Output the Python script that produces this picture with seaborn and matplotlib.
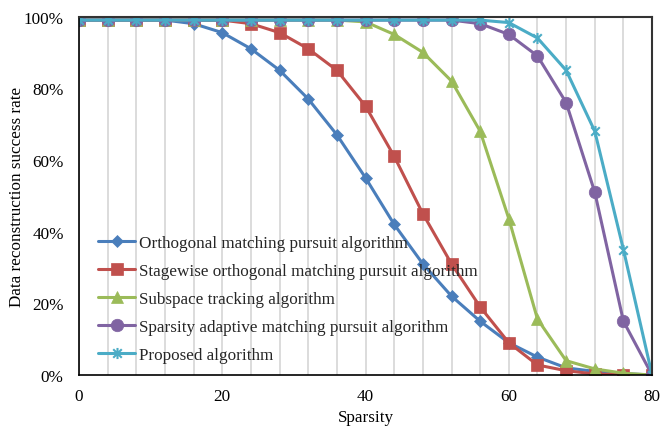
import numpy as np
import pandas as pd
import matplotlib
matplotlib.use("Agg")
import matplotlib.pyplot as plt
from matplotlib.path import Path
from matplotlib.ticker import MultipleLocator, PercentFormatter
import seaborn as sns

sparsity = [0, 4, 8, 12, 16, 20, 24, 28, 32, 36, 40, 44, 48, 52, 56, 60, 64, 68, 72, 76, 80]
omp = [0.99, 0.99, 0.99, 0.99, 0.98, 0.955, 0.91, 0.85, 0.77, 0.67, 0.55, 0.42, 0.31, 0.22,
       0.15, 0.09, 0.05, 0.02, 0.01, 0.004, 0.0]
somp = [0.99, 0.99, 0.99, 0.99, 0.99, 0.99, 0.98, 0.955, 0.91, 0.85, 0.75, 0.61, 0.45, 0.31,
        0.19, 0.09, 0.028, 0.012, 0.003, 0.001, 0.0]
subspace = [0.99, 0.99, 0.99, 0.99, 0.99, 0.99, 0.99, 0.99, 0.99, 0.99, 0.985, 0.95, 0.90, 0.82,
            0.68, 0.436, 0.156, 0.04, 0.017, 0.005, 0.0]
samp = [0.99, 0.99, 0.99, 0.99, 0.99, 0.99, 0.99, 0.99, 0.99, 0.99, 0.99, 0.99, 0.99, 0.99,
        0.98, 0.95, 0.89, 0.76, 0.51, 0.15, 0.0]
proposed = [0.99, 0.99, 0.99, 0.99, 0.99, 0.99, 0.99, 0.99, 0.99, 0.99, 0.99, 0.99, 0.99, 0.99,
            0.99, 0.983, 0.94, 0.85, 0.68, 0.35, 0.0]

labels = ["Orthogonal matching pursuit algorithm",
          "Stagewise orthogonal matching pursuit algorithm",
          "Subspace tracking algorithm",
          "Sparsity adaptive matching pursuit algorithm",
          "Proposed algorithm"]
series = [omp, somp, subspace, samp, proposed]
colors = ["#4A7EBB", "#C0504D", "#9BBB59", "#8064A2", "#4BACC6"]

star = Path([(-1, -1), (1, 1), (-1, 1), (1, -1), (0, -1.3), (0, 1.3)],
            [Path.MOVETO, Path.LINETO, Path.MOVETO, Path.LINETO, Path.MOVETO, Path.LINETO])
markers = ["D", "s", "^", "o", star]
msizes = [6, 8, 8, 9, 8]

sns.set_theme(style="white")
plt.rcParams['font.family'] = ['Liberation Serif', 'DejaVu Serif']

FS = 12.3

fig = plt.figure(figsize=(6.6, 4.27), dpi=100)
ax = fig.add_axes([0.1197, 0.1194, 0.988 - 0.1197, 0.959 - 0.1194])

for lab, vals, c, m, ms in zip(labels, series, colors, markers, msizes):
    df = pd.DataFrame({"Sparsity": sparsity, "rate": vals})
    sns.lineplot(data=df, x="Sparsity", y="rate", ax=ax, color=c, linewidth=2.2,
                 marker=m, markersize=ms, markeredgecolor=c, markerfacecolor=c,
                 markeredgewidth=1.5 if m is star else 0.5, label=lab)

ax.set_xlim(0, 80)
ax.set_ylim(0, 1.0)
ax.xaxis.set_major_locator(MultipleLocator(20))
ax.xaxis.set_minor_locator(MultipleLocator(4))
ax.yaxis.set_major_locator(MultipleLocator(0.2))
ax.yaxis.set_major_formatter(PercentFormatter(1.0, decimals=0))
ax.grid(False)
ax.grid(True, which="minor", axis="x", color="#D9D9D9", linewidth=1.3)
ax.grid(True, which="major", axis="x", color="#D9D9D9", linewidth=1.3)
ax.set_axisbelow(True)
ax.tick_params(axis="both", which="both", length=0, labelsize=FS, colors="black")
ax.tick_params(axis="y", pad=11)
ax.tick_params(axis="x", pad=9)
for s in ["left", "bottom"]:
    ax.spines[s].set_color("black")
    ax.spines[s].set_linewidth(1.2)
for s in ["top", "right"]:
    ax.spines[s].set_color("#333333")
    ax.spines[s].set_linewidth(1.5)

ax.set_xlabel("Sparsity", fontsize=FS, color="black", labelpad=4)
ax.set_ylabel("Data reconstruction success rate", fontsize=FS, color="black", labelpad=-1)

leg = ax.legend(loc="lower left", bbox_to_anchor=(0.012, 0.0), frameon=False,
                fontsize=FS, handlelength=2.2, handletextpad=0.2, labelspacing=0.7,
                borderaxespad=0.3)

fig.savefig("out.png", dpi=100)
